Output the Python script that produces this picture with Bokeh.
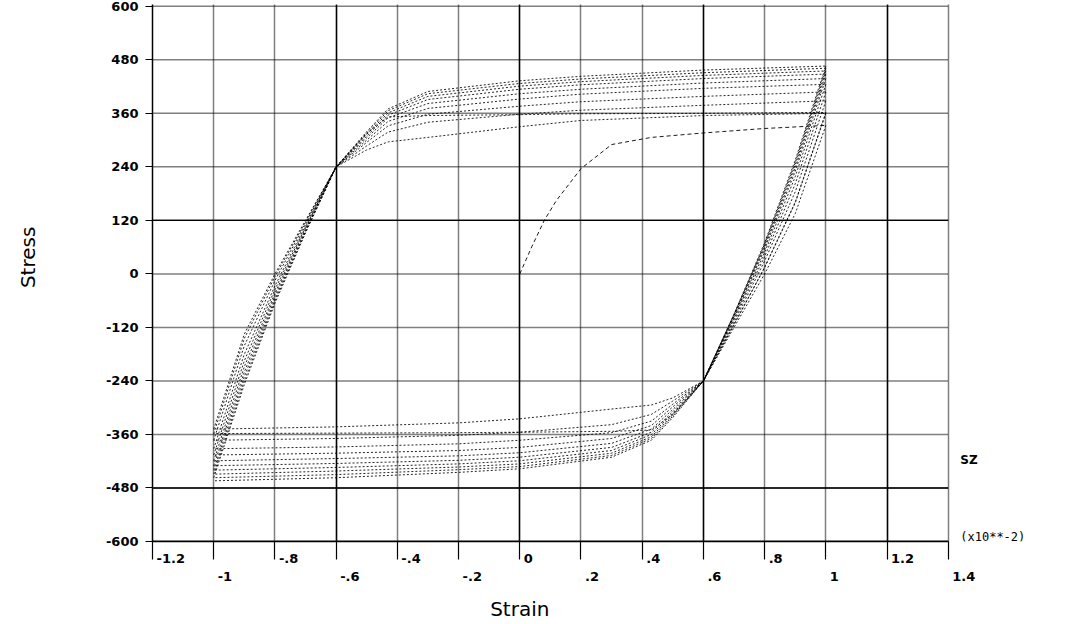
import math
from bokeh.plotting import figure
from bokeh.models import Range1d, FixedTicker, LinearAxis, Grid, ColumnDataSource
from bokeh.core.properties import value
from bokeh.embed import file_html
from bokeh.resources import INLINE

# ---------------- data ----------------
# initial loading branch (strain in 1e-2, stress)
init_strain = [0.0, 0.04, 0.08, 0.12, 0.2, 0.3, 0.43, 0.6, 0.8, 1.0]
init_stress = [0, 62, 120, 165, 236, 290, 306, 316, 326, 333]

# stations (strain) of the reloading (upward) branches
up_strain = [-1.0, -0.9, -0.8, -0.7, -0.6, -0.5, -0.43, -0.3, 0.0, 0.2, 0.6, 1.0]
up_branches = [
    [-348, -135, 0, 120, 240, 278, 296, 306, 330, 344, 355, 360],
    [-358, -145, -6, 117, 240, 315, 352, 355, 357, 359, 360, 362],
    [-373, -161, -15, 114, 240, 287, 318, 340, 358, 367, 378, 388],
    [-392, -180, -27, 109, 240, 295, 332, 358, 376, 386, 398, 408],
    [-406, -195, -35, 105, 240, 300, 342, 371, 392, 403, 416, 425],
    [-419, -208, -43, 102, 240, 305, 350, 382, 404, 414, 428, 438],
    [-430, -220, -49, 99, 240, 309, 356, 391, 414, 424, 438, 448],
    [-440, -230, -56, 96, 240, 313, 361, 398, 421, 431, 445, 455],
    [-449, -240, -61, 94, 240, 316, 366, 404, 427, 437, 451, 461],
    [-457, -248, -66, 92, 240, 319, 370, 409, 433, 443, 457, 466],
]

# stations (strain) of the unloading (downward) branches
down_strain = [1.0, 0.9, 0.8, 0.7, 0.6, 0.5, 0.43, 0.3, 0.0, -0.2, -0.6, -1.0]
down_branches = [
    [333, 135, 0, -120, -240, -278, -294, -303, -325, -334, -343, -348],
    [360, 159, 14, -114, -240, -315, -350, -353, -355, -356, -357, -358],
    [362, 161, 15, -113, -240, -285, -315, -338, -355, -362, -369, -373],
    [388, 184, 29, -108, -240, -292, -330, -356, -373, -381, -388, -392],
    [408, 202, 39, -103, -240, -298, -340, -369, -389, -396, -402, -406],
    [425, 218, 48, -99, -240, -304, -348, -380, -401, -408, -414, -419],
    [438, 230, 55, -96, -240, -309, -355, -389, -411, -418, -425, -430],
    [448, 238, 60, -94, -240, -313, -360, -396, -419, -426, -434, -440],
    [455, 245, 64, -92, -240, -316, -365, -402, -426, -433, -442, -449],
    [461, 250, 67, -91, -240, -319, -369, -407, -432, -439, -450, -457],
    [466, 255, 70, -90, -240, -322, -373, -411, -437, -445, -457, -464],
]

# axes / ticks
y_ticks = [-600, -480, -360, -240, -120, 0, 120, 240, 360, 480, 600]
y_solid_ticks = [-600, -480, 120]
x_grid_ticks = [-1.2, -1.0, -0.8, -0.6, -0.4, -0.2, 0.0, 0.2, 0.4, 0.6, 0.8, 1.0, 1.2, 1.4]
x_solid_ticks = [-1.2, -0.6, 0.0, 0.6, 1.2]
x_row1_ticks = [-1.2, -0.8, -0.4, 0.0, 0.4, 0.8, 1.2]
x_row1_labels = ["-1.2", "-.8", "-.4", "0", ".4", ".8", "1.2"]
x_row2_ticks = [-1.0, -0.6, -0.2, 0.2, 0.6, 1.0, 1.4]
x_row2_labels = ["-1", "-.6", "-.2", ".2", ".6", "1", "1.4"]
x_title = "Strain"
y_title = "Stress"
component = "SZ"
x_scale_note = "(x10**-2)"

# ---------------- figure ----------------
XMIN, XMAX = -1.2, 1.4
YMIN, YMAX = -600, 600
PX_PER_X = 797 / 2.604
PX_PER_Y = 535 / 1200.0
LEFT = 152
FRAME_W = 1072 - LEFT
XR_END = XMIN + FRAME_W / PX_PER_X

p = figure(width=1072, height=624, output_backend="svg", toolbar_location=None,
           x_range=Range1d(XMIN, XR_END), y_range=Range1d(YMIN, 604),
           min_border_left=LEFT, min_border_right=0,
           min_border_top=4, min_border_bottom=83,
           x_axis_location=None, y_axis_location=None)
p.outline_line_color = None
p.background_fill_color = "white"
p.border_fill_color = "white"
for g in p.grid:
    g.visible = False

DOT = dict(line_color="black", line_dash="1 1", line_width=1.5)
SOLID = dict(line_color="black", line_width=1.4)

# vertical grid lines (span the full y range)
gx = Grid(dimension=0, ticker=FixedTicker(ticks=x_grid_ticks),
          grid_line_color="black", grid_line_dash="1 1", grid_line_width=1.5)
gxs = Grid(dimension=0, ticker=FixedTicker(ticks=x_solid_ticks),
           grid_line_color="black", grid_line_width=1.4)
p.add_layout(gx, "center")
p.add_layout(gxs, "center")

# horizontal grid lines, limited to the strain axis extent
n = len(y_ticks)
p.segment(x0=[XMIN] * n, x1=[XMAX] * n, y0=y_ticks, y1=y_ticks, **DOT)
m = len(y_solid_ticks)
p.segment(x0=[XMIN] * m, x1=[XMAX] * m, y0=y_solid_ticks, y1=y_solid_ticks, **SOLID)

# curves
xs, ys = [], []
for br in up_branches:
    xs.append(up_strain)
    ys.append(br)
for br in down_branches:
    xs.append(down_strain)
    ys.append(br)
src = ColumnDataSource(dict(xs=xs, ys=ys))
p.multi_line(xs="xs", ys="ys", source=src, line_color="black", line_width=0.9,
             line_dash="2 2", line_alpha=0.95)
p.line(init_strain, init_stress, line_color="black", line_width=0.9, line_dash="4 3")

# side notes
FONT = "DejaVu Sans"
p.text(x=[XMAX + 12 / PX_PER_X], y=[(273.5 - 460) / PX_PER_Y], text=[component],
       text_align="left", text_baseline="middle", text_font=value(FONT),
       text_font_style="bold", text_font_size="12px", text_color="black")
p.text(x=[XMAX + 12 / PX_PER_X], y=[(273.5 - 537) / PX_PER_Y], text=[x_scale_note],
       text_align="left", text_baseline="middle", text_font=value("DejaVu Sans Mono"),
       text_font_size="12px", text_color="black")

# ---------------- axes ----------------
def style_labels(ax, size="13px", bold=True, font=FONT):
    ax.major_label_text_font = font
    ax.major_label_text_font_style = "bold" if bold else "normal"
    ax.major_label_text_font_size = size
    ax.major_label_text_color = "black"

yaxis = LinearAxis(ticker=FixedTicker(ticks=y_ticks),
                   major_label_overrides={v: str(v) for v in y_ticks})
yaxis.major_tick_out = 7
yaxis.major_tick_in = 0
yaxis.minor_tick_line_color = None
yaxis.major_tick_line_color = "black"
yaxis.axis_line_color = "black"
yaxis.axis_line_width = 1.5
yaxis.major_label_standoff = 7
style_labels(yaxis)
p.add_layout(yaxis, "left")

# second left axis carrying the rotated title "Stress"
y_title_pos = 37
ytitle_axis = LinearAxis(ticker=FixedTicker(ticks=[y_title_pos]),
                         major_label_overrides={y_title_pos: y_title},
                         major_label_orientation="parallel")
ytitle_axis.axis_line_color = None
ytitle_axis.major_tick_line_color = None
ytitle_axis.minor_tick_line_color = None
ytitle_axis.major_tick_out = 0
ytitle_axis.major_tick_in = 0
ytitle_axis.major_label_standoff = 62
style_labels(ytitle_axis, size="20px", bold=False)
p.add_layout(ytitle_axis, "left")

CW = {"-": 0.415, ".": 0.380}
def label_width(s, size=13):
    return sum(CW.get(c, 0.696) for c in s) * size

def shifted(ticks, labels):
    return [round(t + (label_width(s) / 2 + 4) / PX_PER_X, 6) for t, s in zip(ticks, labels)]

pos1 = shifted(x_row1_ticks, x_row1_labels)
pos2 = shifted(x_row2_ticks, x_row2_labels)

xaxis1 = LinearAxis(ticker=FixedTicker(ticks=pos1, minor_ticks=x_grid_ticks),
                    major_label_overrides={pv: s for pv, s in zip(pos1, x_row1_labels)},
                    bounds=(XMIN, XMAX))
xaxis1.major_tick_out = 0
xaxis1.major_tick_in = 0
xaxis1.major_tick_line_color = None
xaxis1.minor_tick_out = 18
xaxis1.minor_tick_in = 0
xaxis1.minor_tick_line_color = "black"
xaxis1.minor_tick_line_width = 1.2
xaxis1.axis_line_color = "black"
xaxis1.axis_line_width = 1.5
xaxis1.major_label_standoff = -6
style_labels(xaxis1)
p.add_layout(xaxis1, "below")

xaxis2 = LinearAxis(ticker=FixedTicker(ticks=pos2),
                    major_label_overrides={pv: s for pv, s in zip(pos2, x_row2_labels)})
xaxis2.major_tick_out = 0
xaxis2.major_tick_in = 0
xaxis2.major_tick_line_color = None
xaxis2.minor_tick_line_color = None
xaxis2.axis_line_color = None
xaxis2.major_label_standoff = 6
style_labels(xaxis2)
p.add_layout(xaxis2, "below")

x_title_pos = 0.0
xtitle_axis = LinearAxis(ticker=FixedTicker(ticks=[x_title_pos]),
                         major_label_overrides={x_title_pos: x_title})
xtitle_axis.axis_line_color = None
xtitle_axis.major_tick_line_color = None
xtitle_axis.minor_tick_line_color = None
xtitle_axis.major_tick_out = 0
xtitle_axis.major_tick_in = 0
xtitle_axis.major_label_standoff = 13
style_labels(xtitle_axis, size="20px", bold=False)
p.add_layout(xtitle_axis, "below")

open("out.html", "w").write(file_html(p, INLINE))
